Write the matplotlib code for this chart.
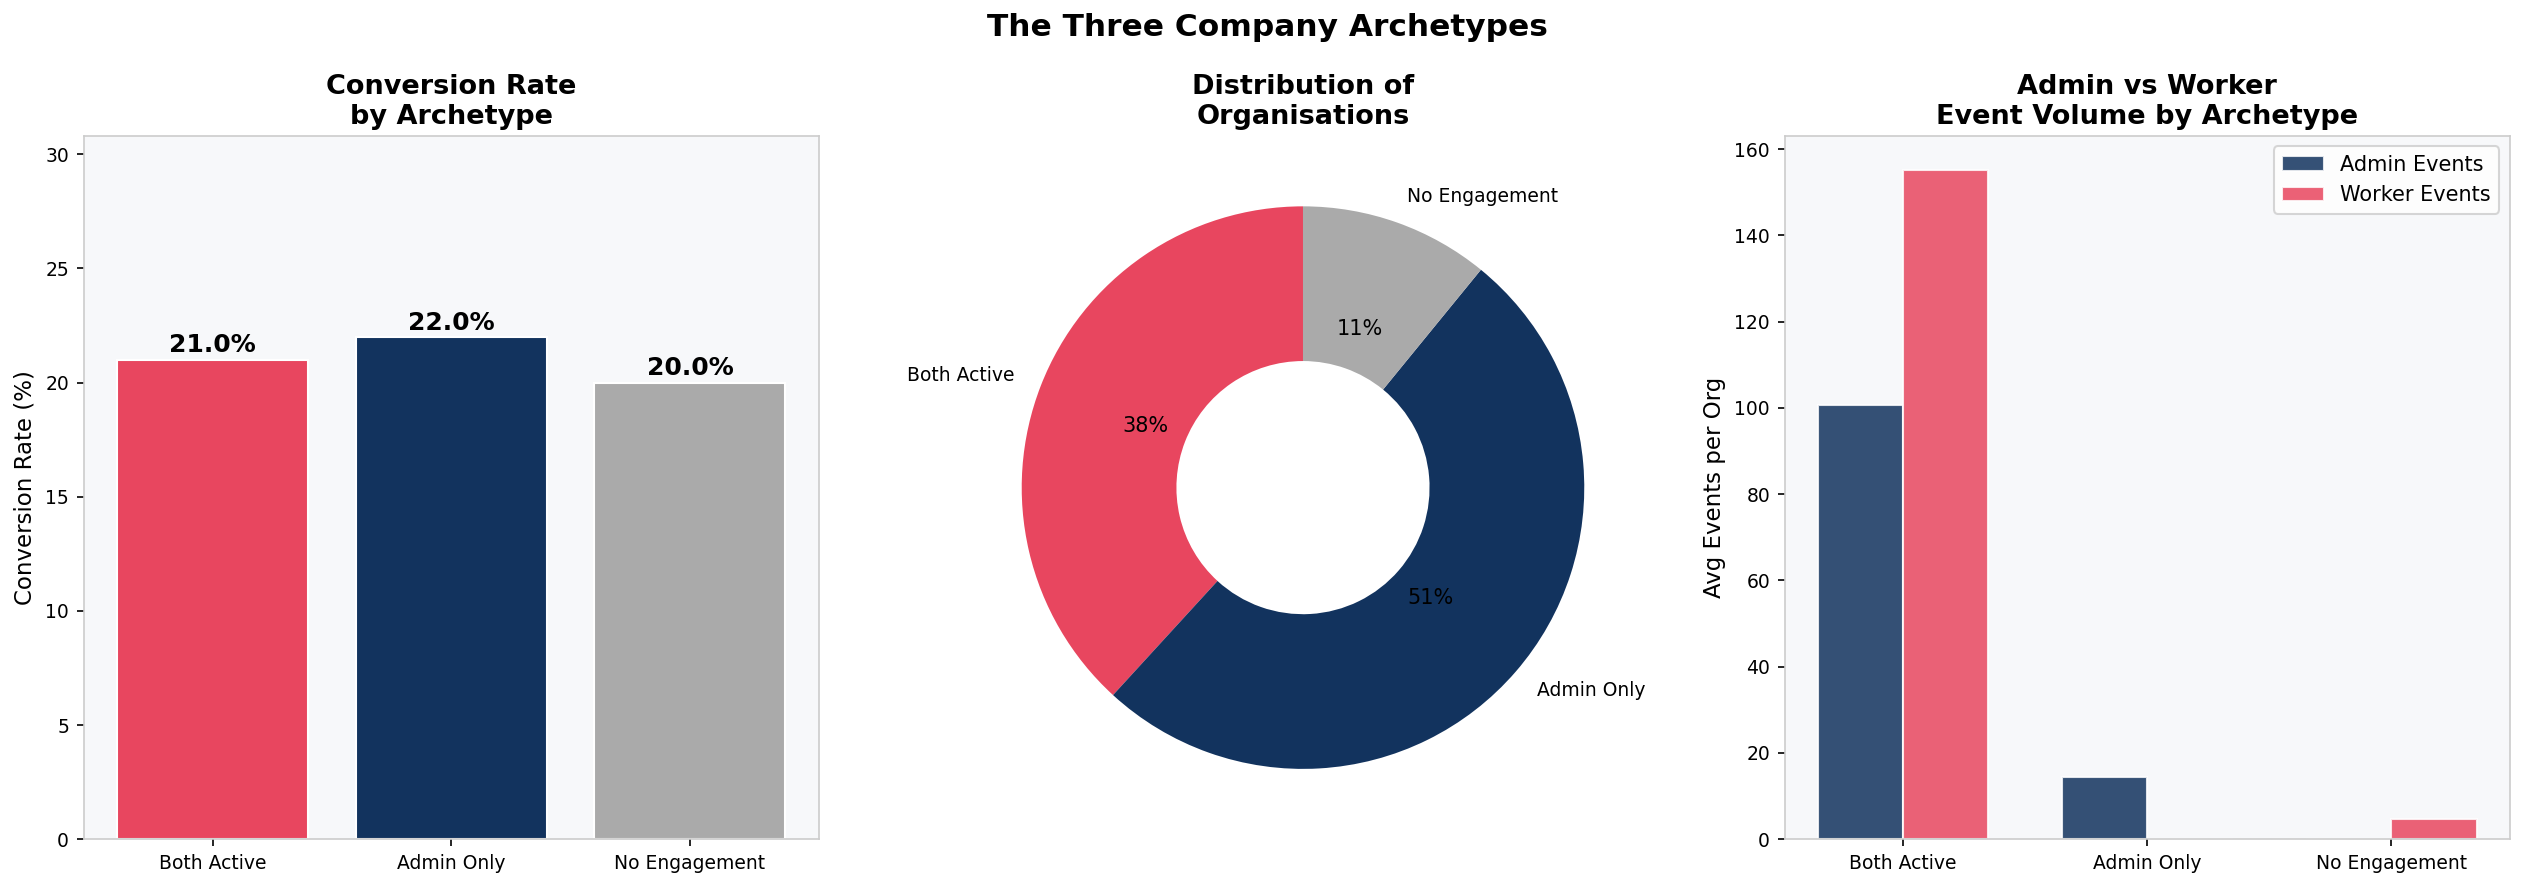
import matplotlib.pyplot as plt
import numpy as np

archetypes = ["Both Active", "Admin Only", "No Engagement"]
conversion_rate = [21.0, 22.0, 20.0]
org_share = [38.2, 50.9, 10.9]
admin_events = [100.8, 14.5, 0.0]
worker_events = [155.3, 0.0, 4.7]

RED = "#E8465F"
NAVY = "#12335E"
GREY = "#AAAAAA"
BG = "#F7F8FA"
colors = [RED, NAVY, GREY]

fig = plt.figure(figsize=(2535 / 150, 889 / 150), dpi=150)

ax1 = fig.add_axes([0.033, 0.056, 0.290, 0.791])
ax2 = fig.add_axes([0.369, 0.056, 0.290, 0.791])
ax3 = fig.add_axes([0.704, 0.056, 0.286, 0.791])

for ax in (ax1, ax3):
    ax.set_facecolor(BG)
    ax.tick_params(labelsize=9)
    for s in ax.spines.values():
        s.set_color("#CCCCCC")

# conversion rate
x = np.arange(len(archetypes))
bars = ax1.bar(x, conversion_rate, color=colors, width=0.8, edgecolor="white")
for b, v in zip(bars, conversion_rate):
    ax1.text(b.get_x() + b.get_width() / 2, v + 0.1, f"{v:.1f}%",
             ha="center", va="bottom", fontsize=12, fontweight="bold")
ax1.set_xticks(x)
ax1.set_xticklabels(archetypes)
ax1.set_ylim(0, max(conversion_rate) * 1.4)
ax1.set_ylabel("Conversion Rate (%)", fontsize=11)
ax1.set_title("Conversion Rate\nby Archetype", fontsize=13, fontweight="bold")

# donut
wedges, texts, autotexts = ax2.pie(org_share, labels=archetypes, colors=colors,
                                   autopct="%.0f%%", startangle=90,
                                   wedgeprops=dict(width=0.55),
                                   textprops=dict(fontsize=9))
for t in autotexts:
    t.set_fontsize(10)
ax2.set_title("Distribution of\nOrganisations", fontsize=13, fontweight="bold")

# admin vs worker
w = 0.35
ax3.bar(x - w / 2, admin_events, w, color=NAVY, alpha=0.85, edgecolor="white",
        label="Admin Events")
ax3.bar(x + w / 2, worker_events, w, color=RED, alpha=0.85, edgecolor="white",
        label="Worker Events")
ax3.set_xticks(x)
ax3.set_xticklabels(archetypes)
ax3.set_ylabel("Avg Events per Org", fontsize=11)
ax3.set_title("Admin vs Worker\nEvent Volume by Archetype", fontsize=13,
              fontweight="bold")
ax3.legend(fontsize=10)

fig.suptitle("The Three Company Archetypes", fontsize=15, fontweight="bold",
             y=0.985)

fig.savefig("out.png", dpi=150)
